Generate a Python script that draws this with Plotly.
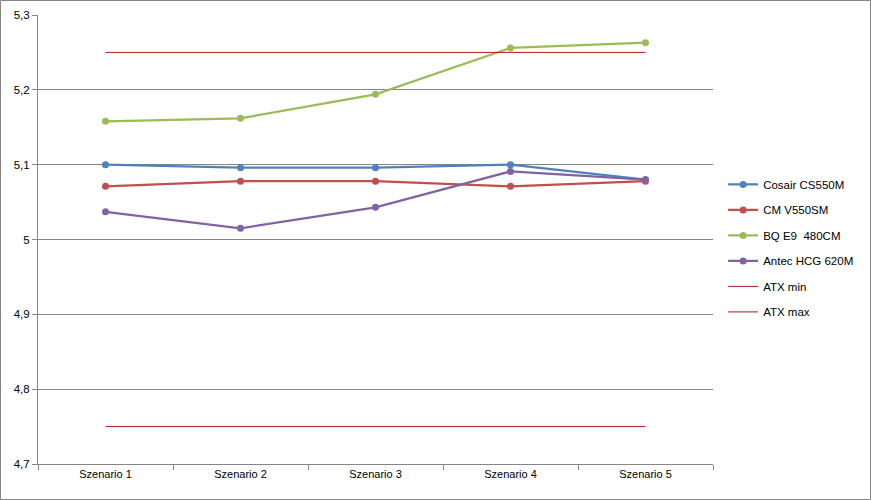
import plotly.graph_objects as go

categories = ["Szenario 1", "Szenario 2", "Szenario 3", "Szenario 4", "Szenario 5"]
cosair = [5.100, 5.096, 5.096, 5.100, 5.080]
cm = [5.071, 5.078, 5.078, 5.071, 5.078]
bq = [5.158, 5.162, 5.194, 5.256, 5.263]
antec = [5.037, 5.015, 5.043, 5.091, 5.080]
atx_min = [4.75, 4.75, 4.75, 4.75, 4.75]
atx_max = [5.25, 5.25, 5.25, 5.25, 5.25]
ytick_vals = [4.7, 4.8, 4.9, 5.0, 5.1, 5.2, 5.3]
ytick_text = ["4,7", "4,8", "4,9", "5", "5,1", "5,2", "5,3"]

W, H = 871, 500
L, R, T, B = 38, 158, 15, 36

fig = go.Figure()
series = [
    ("Cosair CS550M", cosair, "#4F81BD"),
    ("CM V550SM", cm, "#C0504D"),
    ("BQ E9  480CM", bq, "#9BBB59"),
    ("Antec HCG 620M", antec, "#8064A2"),
]
for name, vals, col in series:
    fig.add_trace(go.Scatter(x=categories, y=vals, name=name, mode="lines+markers",
                             legendgroup=name,
                             line=dict(color=col, width=2.25),
                             marker=dict(color=col, size=7)))
for name, vals in [("ATX min", atx_min), ("ATX max", atx_max)]:
    fig.add_trace(go.Scatter(x=categories, y=vals, name=name, mode="lines",
                             legendgroup=name,
                             line=dict(color="#AA1E1E", width=1)))

pw = W - L - R
ph = H - T - B
fig.add_shape(type="rect", xref="paper", yref="paper",
              x0=(-L + 0.5) / pw, x1=(W - L - 0.5) / pw,
              y0=(-B + 0.5) / ph, y1=(H - B - 0.5) / ph,
              line=dict(color="#868686", width=1))

fig.update_layout(
    width=W, height=H,
    margin=dict(l=L, r=R, t=T, b=B, autoexpand=False),
    paper_bgcolor="white", plot_bgcolor="white",
    font=dict(family="Liberation Sans", size=11, color="black"),
    showlegend=True,
    legend=dict(x=1.015, y=0.655, xanchor="left", yanchor="top",
                font=dict(size=11.5), tracegroupgap=6.5, itemwidth=30,
                bgcolor="rgba(0,0,0,0)"),
    xaxis=dict(showgrid=False, showline=True, linecolor="#868686", linewidth=1,
               ticks="outside", tickson="boundaries", ticklen=5, tickcolor="#868686",
               tickfont=dict(size=11), range=[-0.5, 4.5]),
    yaxis=dict(range=[4.7, 5.3], tickvals=ytick_vals, ticktext=ytick_text,
               showgrid=True, gridcolor="#868686", gridwidth=1,
               showline=True, linecolor="#868686", linewidth=1,
               ticks="outside", ticklen=5, tickcolor="#868686",
               zeroline=False, tickfont=dict(size=11.5)),
)

fig.write_html("out.html")
